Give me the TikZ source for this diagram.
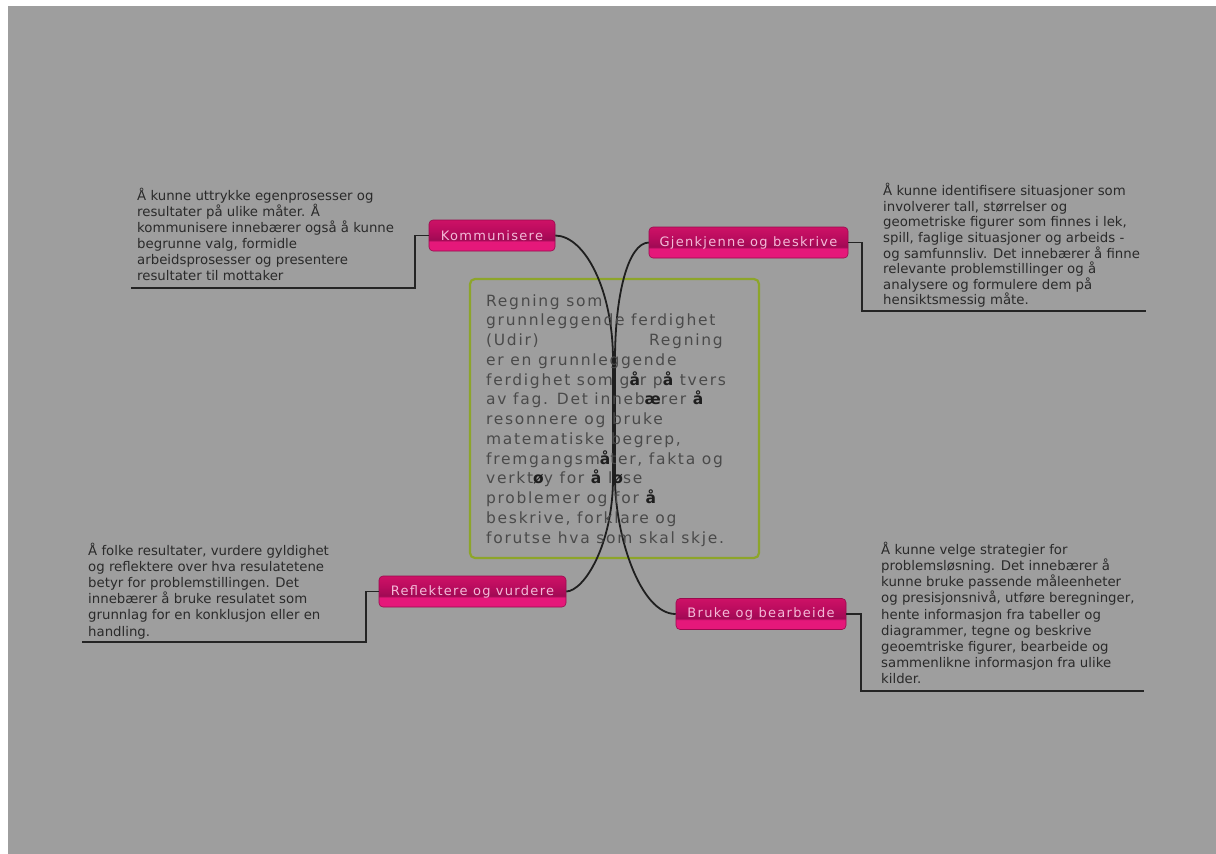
\documentclass[tikz,border=0pt]{standalone}
\usepackage{fontspec}
\setmainfont{DejaVu Sans}
\newfontfamily\spacedfont{DejaVu Sans}[LetterSpace=11]
\newfontfamily\labelfont{DejaVu Sans}[LetterSpace=10]
\definecolor{canvas}{HTML}{9E9E9E}
\definecolor{bodytext}{HTML}{2A2A2A}
\definecolor{roottext}{HTML}{4A4A4A}
\definecolor{rootbold}{HTML}{1E1E1E}
\definecolor{rootframe}{HTML}{8DA52A}
\definecolor{pkTop}{HTML}{CE1166}
\definecolor{pkMid}{HTML}{BA0C5E}
\definecolor{pkDark}{HTML}{A00A54}
\definecolor{pkBot}{HTML}{E5187A}
\definecolor{pkEdge}{HTML}{9A0A4E}
\definecolor{labeltext}{HTML}{F4BAD8}
\definecolor{wire}{HTML}{1F1F1F}
\pgfdeclareverticalshading{pinkbar}{100bp}{color(0bp)=(pkBot); color(25bp)=(pkBot); color(40bp)=(pkBot); color(43bp)=(pkDark); color(58bp)=(pkMid); color(75bp)=(pkTop); color(100bp)=(pkTop)}
\newcommand\bch[1]{{\bfseries\color{rootbold}#1}}
\begin{document}
\begin{tikzpicture}[x=1pt,y=-1pt,
  topic/.style={rounded corners=4pt, shading=pinkbar, draw=pkEdge, line width=0.6pt,
    minimum height=31pt, inner xsep=0pt, text=labeltext,
    font=\labelfont\fontsize{13}{15}\selectfont},
  roottext/.style={anchor=base west, inner sep=0pt, text=roottext,
    font=\spacedfont\fontsize{15.5}{18}\selectfont},
  note/.style={anchor=base west, inner sep=0pt, text=bodytext,
    font=\fontsize{13.3}{16}\selectfont},
  branch/.style={draw=wire, line width=1.8pt},
  leader/.style={draw=bodytext!85!black, line width=1.1pt}
]
% page and canvas
\fill[white] (0,0) rectangle (1216,854);
\fill[canvas] (8,6) rectangle (1216,854);
\useasboundingbox (0,0) rectangle (1216,854);

% central topic frame
\node[draw=rootframe, line width=2.2pt, rounded corners=5pt, minimum width=289pt,
  minimum height=279pt, inner sep=0pt] (root) at (614.5,418.5) {};

% trunk ends where the branches leave the centre
\coordinate (tl) at (613,360);
\coordinate (tr) at (615,360);
\coordinate (bl) at (613,478);
\coordinate (br) at (615,478);

% topics
\node[topic, minimum width=126pt] (kom) at (492,235.5) {Kommunisere};
\node[topic, minimum width=199pt] (gjen) at (748.5,242.5) {Gjenkjenne og beskrive};
\node[topic, minimum width=187pt] (refl) at (472.5,591.5) {Reflektere og vurdere};
\node[topic, minimum width=170pt] (bruk) at (761,614) {Bruke og bearbeide};

% branches: a shared vertical trunk, then a curve out to each topic
\draw[branch] (bl) -- (tl) .. controls (613,290) and (585,236) .. (kom.east);
\draw[branch] (br) -- (tr) .. controls (615,295) and (628,243) .. (gjen.west);
\draw[branch] (tl) -- (bl) .. controls (613,545) and (584,591) .. (refl.east);
\draw[branch] (tr) -- (br) .. controls (615,535) and (640,614) .. (bruk.west);

% central text
\node[roottext] (r1) at (486,306) {Regning som};
\node[roottext] (r2) at (486,325.75) {grunnleggende ferdighet};
\node[roottext] (r3) at (486,345.5) {(Udir)};
\node[roottext] (r3b) at (649,345.5) {Regning};
\node[roottext] (r4) at (486,365.25) {er en grunnleggende};
\node[roottext] (r5) at (486,385) {ferdighet som g\bch{å}r p\bch{å} tvers};
\node[roottext] (r6) at (486,404.75) {av fag. Det inneb\bch{æ}rer \bch{å}};
\node[roottext] (r7) at (486,424.5) {resonnere og bruke};
\node[roottext] (r8) at (486,444.25) {matematiske begrep,};
\node[roottext] (r9) at (486,464) {fremgangsm\bch{å}ter, fakta og};
\node[roottext] (r10) at (486,483.75) {verkt\bch{ø}y for \bch{å} l\bch{ø}se};
\node[roottext] (r11) at (486,503.5) {problemer og for \bch{å}};
\node[roottext] (r12) at (486,523.25) {beskrive, forklare og};
\node[roottext] (r13) at (486,543) {forutse hva som skal skje.};

% note: Kommunisere
\coordinate (kb) at (415,288);
\coordinate (kt) at (131,288);
\draw[leader] (kom.west) -- (kom.west -| kb) -- (kb) -- (kt);
\foreach \t [count=\i] in {Å kunne uttrykke egenprosesser og,
  resultater på ulike måter. Å,
  kommunisere innebærer også å kunne,
  {begrunne valg, formidle},
  arbeidsprosesser og presentere,
  resultater til mottaker}
  \node[note] (k\i) at (137,{200+16.1*(\i-1)}) {\t};

% note: Gjenkjenne og beskrive
\coordinate (gb) at (862,311);
\coordinate (ge) at (1146,311);
\draw[leader] (gjen.east) -- (gjen.east -| gb) -- (gb) -- (ge);
\foreach \t [count=\i] in {Å kunne identifisere situasjoner som,
  {involverer tall, størrelser og},
  {geometriske figurer som finnes i lek,},
  {spill, faglige situasjoner og arbeids -},
  og samfunnsliv. Det innebærer å finne,
  relevante problemstillinger og å,
  analysere og formulere dem på,
  hensiktsmessig måte.}
  \node[note] (g\i) at (883,{195.8+15.55*(\i-1)}) {\t};

% note: Reflektere og vurdere
\coordinate (fb) at (366,642);
\coordinate (fe) at (82,642);
\draw[leader] (refl.west) -- (refl.west -| fb) -- (fb) -- (fe);
\foreach \t [count=\i] in {{Å folke resultater, vurdere gyldighet},
  og reflektere over hva resulatetene,
  betyr for problemstillingen. Det,
  innebærer å bruke resulatet som,
  grunnlag for en konklusjon eller en,
  handling.}
  \node[note] (f\i) at (88,{555+16.2*(\i-1)}) {\t};

% note: Bruke og bearbeide
\coordinate (bb) at (861,691);
\coordinate (be) at (1144,691);
\draw[leader] (bruk.east) -- (bruk.east -| bb) -- (bb) -- (be);
\foreach \t [count=\i] in {Å kunne velge strategier for,
  problemsløsning. Det innebærer å,
  kunne bruke passende måleenheter,
  {og presisjonsnivå, utføre beregninger,},
  hente informasjon fra tabeller og,
  {diagrammer, tegne og beskrive},
  {geoemtriske figurer, bearbeide og},
  sammenlikne informasjon fra ulike,
  kilder.}
  \node[note] (b\i) at (881,{554.3+16.2*(\i-1)}) {\t};
\end{tikzpicture}
\end{document}
